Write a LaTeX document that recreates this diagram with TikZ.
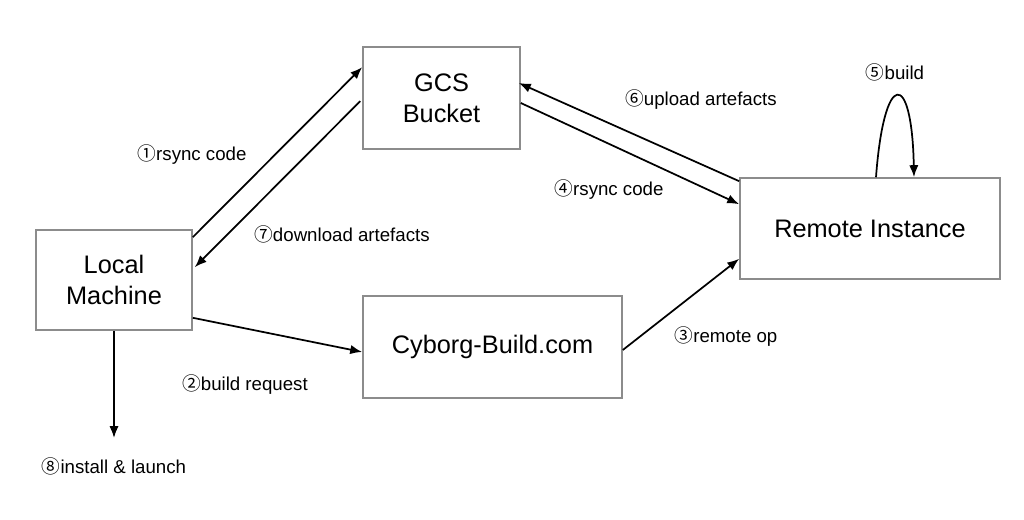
\documentclass[tikz,border=0pt]{standalone}
\usepackage{fontspec}
\setmainfont{Liberation Sans}
\newfontfamily\circfont{Noto Sans CJK JP}
\usetikzlibrary{arrows.meta,calc}
\newcommand{\circnum}[1]{{\circfont #1}}
\begin{document}
\begin{tikzpicture}[x=0.75pt,y=-0.75pt]
    \tikzstyle{box}=[draw=black!45,line width=1.2pt,inner sep=4pt,align=center,font=\fontsize{19}{23}\selectfont]
    \tikzstyle{lbl}=[inner sep=1pt,font=\fontsize{14}{17}\selectfont]
    \tikzstyle{flow}=[line width=1.3pt,-{Latex[length=9pt,width=7pt]}]
    \useasboundingbox (0,0) rectangle (1024,520);
    \draw node[box,minimum width=117pt,minimum height=75pt](local)at(114,280){Local\\Machine}
          node[box,minimum width=117.75pt,minimum height=76.5pt](gcs)at(441.5,98){GCS\\Bucket}
          node[box,minimum width=194.25pt,minimum height=76.5pt](cyborg)at(492.5,347){Cyborg-Build.com}
          node[box,minimum width=195pt,minimum height=75.75pt](remote)at(870,228.5){Remote Instance};
    \coordinate(out)at(114,438);
    \draw node[lbl](l1)at(192,155){\circnum{①}rsync code}
          node[lbl](l2)at(245,385){\circnum{②}build request}
          node[lbl](l3)at(726,337){\circnum{③}remote op}
          node[lbl](l4)at(609,190){\circnum{④}rsync code}
          node[lbl](l5)at(895,72){\circnum{⑤}build}
          node[lbl](l6)at(701,100){\circnum{⑥}upload artefacts}
          node[lbl](l7)at(342,234){\circnum{⑦}download artefacts}
          node[lbl](l8)at(114,466){\circnum{⑧}install \& launch};
    \draw[flow]($(local.north east)+(0,8)$)--($(gcs.north west)+(0,21)$);
    \draw[flow]($(gcs.north west)+(-2,55)$)--($(local.north east)+(2,38)$);
    \draw[flow]($(local.south east)+(0,-13)$)--($(cyborg.west)+(0,5)$);
    \draw[flow]($(cyborg.east)+(0,3)$)--($(remote.south west)+(0,-21)$);
    \draw[flow]($(gcs.east)+(0,5)$)--($(remote.north west)+(0,27)$);
    \draw[flow]($(remote.north west)+(0,4)$)--($(gcs.east)+(-2,-15)$);
    \draw[flow]($(remote.north)+(6,0)$) .. controls (884,69) and (912,69) .. ($(remote.north)+(44,0)$);
    \draw[flow](local.south)--(out);
\end{tikzpicture}
\end{document}
